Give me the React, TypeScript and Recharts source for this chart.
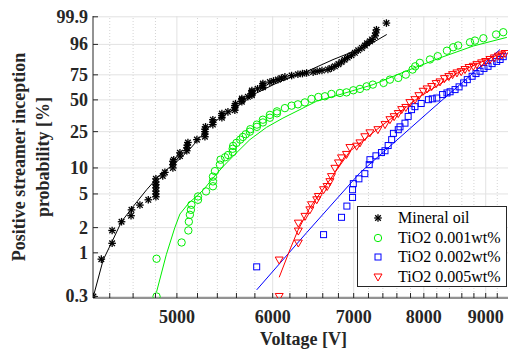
import { Label, Legend, ReferenceLine, Scatter, ScatterChart, XAxis, YAxis } from "recharts";

const FONT = '"Liberation Serif", "Times New Roman", serif';
const AXIS = "#262626";
const GREEN = "#00ee00";
const BLUE = "#0000ff";
const RED = "#ff0000";

// tick labels
const yTickPct = [0.3, 1, 2, 5, 10, 25, 50, 75, 96, 99.9];
const xTickVolts = [5000, 6000, 7000, 8000, 9000];
const xMinorVolts = [
  4400, 4600, 4800, 5000, 5200, 5400, 5600, 5800, 6000, 6200, 6400, 6600, 6800, 7000, 7200, 7400, 7600,
  7800, 8000, 8200, 8400, 8600, 8800, 9000, 9200,
];

// [voltage V, probability %]
const mineralOil: [number, number][] = [
  [4265, 0.3], [4330, 0.84], [4420, 1.3], [4420, 1.85], [4500, 2.35], [4582, 2.77], [4586, 3.25], [4660, 3.7],
  [4735, 4.27], [4804, 4.63], [4804, 5.0], [4804, 5.4], [4804, 5.9], [4804, 6.4], [4804, 6.9], [4804, 7.5],
  [4867, 8.1], [4887, 8.9], [4962, 10.0], [4962, 10.9], [4962, 11.9], [4970, 12.4], [5029, 13.6], [5029, 14.8],
  [5095, 15.6], [5095, 16.8], [5100, 18.0], [5106, 19.2], [5194, 20.6], [5274, 22.1], [5274, 23.6], [5274, 25.0],
  [5274, 26.5], [5280, 28.0], [5354, 29.5], [5354, 31.2], [5354, 33.0], [5447, 34.5], [5447, 36.1], [5447, 37.8],
  [5510, 39.2], [5583, 40.6], [5583, 42.8], [5583, 44.6], [5590, 46.4], [5658, 48.3], [5658, 50.0], [5658, 51.2],
  [5723, 53.0], [5767, 54.6], [5767, 56.1], [5767, 57.8], [5767, 59.2], [5830, 61.0], [5889, 62.6], [5889, 64.5],
  [5889, 66.3], [5968, 67.8], [6010, 69.0], [6060, 70.3], [6100, 71.8], [6141, 73.0], [6220, 74.3], [6295, 75.5],
  [6350, 76.2], [6400, 76.8], [6480, 77.6], [6530, 78.3], [6590, 79.0], [6665, 80.0], [6710, 81.2], [6754, 82.7],
  [6800, 84.5], [6840, 86.2], [6880, 87.8], [6920, 89.3], [6970, 90.8], [7016, 92.2], [7060, 93.5], [7110, 94.6],
  [7150, 95.6], [7180, 96.4], [7220, 97.0], [7250, 97.5], [7290, 98.3], [7300, 98.8], [7310, 99.2], [7450, 99.7],
];

const tio2_001: [number, number][] = [
  [4810, 0.3], [4810, 0.85], [5045, 1.33], [5110, 1.85], [5115, 2.35], [5125, 2.84], [5135, 3.25], [5140, 3.73],
  [5205, 4.27], [5205, 4.67], [5285, 5.35], [5355, 6.15], [5355, 7.0], [5355, 7.95], [5375, 9.2], [5426, 10.9],
  [5433, 12.4], [5480, 13.2], [5512, 14.0], [5560, 15.1], [5560, 16.4], [5565, 17.6], [5600, 19.0], [5640, 20.6],
  [5669, 22.0], [5700, 23.5], [5745, 25.0], [5750, 26.5], [5822, 28.0], [5822, 29.5], [5889, 31.0], [5889, 33.0],
  [5968, 34.5], [5968, 36.7], [6049, 38.0], [6049, 39.6], [6141, 42.4], [6220, 44.6], [6295, 45.8], [6379, 47.6],
  [6460, 50.9], [6545, 52.8], [6627, 53.5], [6710, 55.8], [6819, 56.8], [6905, 57.4], [6995, 59.5], [7084, 60.9],
  [7175, 63.5], [7260, 65.3], [7410, 67.0], [7500, 70.3], [7620, 72.0], [7730, 75.2], [7830, 79.9], [7870, 82.7],
  [7940, 85.5], [8094, 88.0], [8215, 90.2], [8360, 93.3], [8460, 94.9], [8540, 95.6], [8735, 96.7], [8818, 97.2],
  [8960, 97.8], [9180, 98.55], [9305, 98.9],
];

const tio2_002: [number, number][] = [
  [5820, 0.68], [6610, 1.65], [6840, 2.65], [6910, 3.6], [6985, 4.55], [6985, 5.6], [6995, 6.6], [7070, 7.5],
  [7150, 8.6], [7210, 10.9], [7220, 12.4], [7303, 13.7], [7380, 14.9], [7430, 15.6], [7475, 17.8], [7525, 20.6],
  [7550, 24.0], [7620, 26.2], [7645, 28.0], [7718, 30.5], [7765, 35.5], [7815, 41.1], [7866, 43.7], [7960, 46.6],
  [8070, 50.2], [8130, 51.0], [8200, 51.8], [8290, 55.2], [8360, 56.8], [8410, 58.0], [8490, 60.2], [8555, 63.0],
  [8630, 67.0], [8690, 70.3], [8770, 73.6], [8835, 76.2], [8903, 78.4], [8970, 80.9], [9040, 82.7], [9110, 84.9],
  [9190, 86.6], [9250, 88.0], [9305, 89.9],
];

const tio2_005: [number, number][] = [
  [6075, 0.3], [6075, 0.82], [6300, 1.31], [6300, 1.82], [6300, 2.26], [6380, 2.72], [6440, 3.25], [6460, 3.73],
  [6525, 4.27], [6545, 4.67], [6610, 5.6], [6655, 6.1], [6690, 6.95], [6710, 7.95], [6754, 9.9], [6800, 11.4],
  [6840, 13.0], [6905, 14.2], [6950, 16.9], [7040, 17.5], [7084, 19.0], [7150, 22.1], [7220, 24.3], [7330, 26.2],
  [7430, 29.5], [7500, 33.0], [7560, 35.3], [7620, 37.8], [7670, 41.1], [7730, 43.0], [7790, 47.4], [7866, 50.2],
  [7925, 54.1], [7990, 58.5], [8050, 60.9], [8120, 63.3], [8190, 66.3], [8250, 68.0], [8320, 71.3], [8390, 73.3],
  [8450, 75.2], [8520, 76.8], [8590, 78.0], [8652, 79.9], [8720, 81.7], [8790, 82.7], [8850, 84.1], [8930, 85.5],
  [9000, 86.5], [9074, 88.0], [9150, 89.1], [9220, 90.2], [9280, 91.0], [9338, 91.8],
];

// fitted distributions
const mineralOilFit: [number, number][] = [
  [4265, 0.3], [4345, 0.82], [4415, 1.32], [4500, 2.36], [4600, 3.55], [4720, 5.6], [4841, 8.36], [4997, 11.7],
  [5125, 16.3], [5354, 30.8], [5562, 41.1], [5820, 56.8], [6083, 68.5], [6410, 78.4], [6730, 87.9], [7180, 95.4],
  [7455, 98.55],
];
const tio2_001Fit: [number, number][] = [
  [4810, 0.34], [4900, 0.95], [4980, 2.0], [5029, 2.9], [5110, 3.85], [5260, 5.6], [5355, 7.65], [5460, 10.4],
  [5583, 14.2], [5745, 20.6], [5930, 27.7], [6118, 34.2], [6319, 41.1], [6525, 48.8], [6819, 55.2], [7265, 65.3],
  [7730, 78.4], [8250, 89.1], [8790, 95.4], [9370, 98.0],
];
const tio2_002Fit: [number, number][] = [[5820, 0.36], [6400, 1.74], [7084, 8.8], [8094, 40.1], [9249, 93.9]];
const tio2_005Fit: [number, number][] = [
  [6075, 0.51], [6200, 1.09], [6295, 1.86], [6440, 3.45], [6690, 7.31], [6950, 15.4], [7360, 27.9], [7941, 53.2],
  [8570, 78.1], [9338, 92.9],
];

// Weibull paper: log voltage vs ln(-ln(1-p))
const weib = (p: number) => Math.log(-Math.log(1 - p / 100));
const lg = (v: number) => Math.log10(v);
const toPts = (rows: [number, number][]) => rows.map(([v, p]) => ({ x: lg(v), y: weib(p) }));

const xDomain = [lg(4262), lg(9390)];
const yDomain = [-5.85, 1.955];

const textStyle = { fontFamily: FONT, fontWeight: 700, fontSize: 18 };

function Star({ cx, cy }: any) {
  const r = 3.8;
  const d = 2.8;
  return (
    <g stroke="#000" strokeWidth={1.3}>
      <line x1={cx - r} y1={cy} x2={cx + r} y2={cy} />
      <line x1={cx} y1={cy - r} x2={cx} y2={cy + r} />
      <line x1={cx - d} y1={cy - d} x2={cx + d} y2={cy + d} />
      <line x1={cx - d} y1={cy + d} x2={cx + d} y2={cy - d} />
    </g>
  );
}
const Circle = ({ cx, cy }: any) => <circle cx={cx} cy={cy} r={3.7} fill="none" stroke={GREEN} strokeWidth={1} />;
const Square = ({ cx, cy }: any) => (
  <rect x={cx - 3} y={cy - 3} width={6} height={6} fill="none" stroke={BLUE} strokeWidth={1} />
);
const TriDown = ({ cx, cy }: any) => (
  <path d={`M${cx - 4},${cy - 3} L${cx + 4},${cy - 3} L${cx},${cy + 4} Z`} fill="none" stroke={RED} strokeWidth={1} />
);
const NoDot = () => <g />;

const legendItems = [
  { name: "Mineral oil", Marker: Star },
  { name: "TiO2 0.001wt%", Marker: Circle },
  { name: "TiO2 0.002wt%", Marker: Square },
  { name: "TiO2 0.005wt%", Marker: TriDown },
];

function LegendBox() {
  return (
    <div
      style={{
        boxSizing: "border-box",
        width: 150,
        height: 81,
        border: `1px solid ${AXIS}`,
        background: "#fff",
        fontFamily: FONT,
        fontSize: 16,
        color: "#000",
        paddingTop: 1,
      }}
    >
      {legendItems.map(({ name, Marker }) => (
        <div key={name} style={{ height: 19.8, display: "flex", alignItems: "center" }}>
          <svg width={14} height={14} style={{ marginLeft: 13, marginRight: 13 }}>
            <Marker cx={7} cy={7} />
          </svg>
          <span style={{ whiteSpace: "nowrap" }}>{name}</span>
        </div>
      ))}
    </div>
  );
}

function BottomTick({ x, y, payload }: any) {
  const v = Math.round(Math.pow(10, payload.value));
  return (
    <g>
      <line x1={x} y1={y} x2={x} y2={y - 5} stroke={AXIS} />
      {xTickVolts.includes(v) && (
        <text x={x} y={y + 25} textAnchor="middle" style={textStyle} fill={AXIS}>
          {v}
        </text>
      )}
    </g>
  );
}
const TopTick = ({ x, y }: any) => <line x1={x} y1={y} x2={x} y2={y + 5} stroke={AXIS} />;

function LeftTick({ x, y, payload }: any) {
  const p = 100 * (1 - Math.exp(-Math.exp(payload.value)));
  return (
    <g>
      <line x1={x} y1={y} x2={x + 5} y2={y} stroke={AXIS} />
      <text x={x - 5} y={y + 6} textAnchor="end" style={textStyle} fill={AXIS}>
        {Number(p.toFixed(1))}
      </text>
    </g>
  );
}

function YTitle({ viewBox }: any) {
  const cy = viewBox.y + viewBox.height / 2;
  return (
    <g style={textStyle} fill={AXIS} textAnchor="middle">
      <text x={25} y={cy} transform={`rotate(-90, 25, ${cy})`}>
        Positive streamer inception
      </text>
      <text x={49} y={cy} transform={`rotate(-90, 49, ${cy})`}>
        probability [%]
      </text>
    </g>
  );
}

function XTitle({ viewBox }: any) {
  return (
    <text x={viewBox.x + viewBox.width / 2 + 3} y={viewBox.y + 47} textAnchor="middle" style={textStyle} fill={AXIS}>
      Voltage [V]
    </text>
  );
}

const series = [
  { rows: mineralOil, fit: mineralOilFit, shape: Star, color: "#000" },
  { rows: tio2_001, fit: tio2_001Fit, shape: Circle, color: GREEN },
  { rows: tio2_002, fit: tio2_002Fit, shape: Square, color: BLUE },
  { rows: tio2_005, fit: tio2_005Fit, shape: TriDown, color: RED },
];

export default function App() {
  return (
    <div style={{ position: "absolute", left: 0, top: 0, width: 508, height: 352, background: "#fff" }}>
      <ScatterChart width={508} height={352} margin={{ top: 16, right: 0, bottom: 0, left: 0 }}>
        <XAxis
          dataKey="x"
          type="number"
          domain={xDomain}
          ticks={xMinorVolts.map(lg)}
          interval={0}
          allowDataOverflow
          height={54}
          tickSize={0}
          tickMargin={0}
          tick={<BottomTick />}
          axisLine={{ stroke: AXIS }}
        >
          <Label content={<XTitle />} />
        </XAxis>
        <XAxis
          xAxisId="top"
          orientation="top"
          dataKey="x"
          type="number"
          domain={xDomain}
          ticks={xMinorVolts.map(lg)}
          interval={0}
          allowDataOverflow
          height={0}
          tickSize={0}
          tickMargin={0}
          tick={<TopTick />}
          axisLine={{ stroke: AXIS }}
        />
        <YAxis
          dataKey="y"
          type="number"
          domain={yDomain}
          ticks={yTickPct.map(weib)}
          interval={0}
          allowDataOverflow
          width={93}
          tickSize={0}
          tickMargin={0}
          tick={<LeftTick />}
          axisLine={{ stroke: AXIS }}
        >
          <Label content={<YTitle />} />
        </YAxis>

        {xMinorVolts
          .filter((v) => !xTickVolts.includes(v))
          .map((v) => (
            <ReferenceLine key={`m${v}`} x={lg(v)} stroke="#d4d4d4" strokeDasharray="1 2" />
          ))}
        {xTickVolts.map((v) => (
          <ReferenceLine key={`v${v}`} x={lg(v)} stroke="#e2e2e2" />
        ))}
        {yTickPct.map((p) => (
          <ReferenceLine key={`h${p}`} y={weib(p)} stroke="#e2e2e2" />
        ))}

        {series.flatMap((s, i) => [
          <Scatter key={`d${i}`} data={toPts(s.rows)} shape={s.shape} isAnimationActive={false} />,
          <Scatter
            key={`f${i}`}
            data={toPts(s.fit)}
            shape={NoDot}
            line={{ stroke: s.color, strokeWidth: 1 }}
            isAnimationActive={false}
          />,
        ])}

        <Legend
          layout="horizontal"
          verticalAlign="middle"
          align="center"
          wrapperStyle={{ left: 357, top: 206, width: 150, height: 81 }}
          content={<LegendBox />}
        />
      </ScatterChart>
    </div>
  );
}
